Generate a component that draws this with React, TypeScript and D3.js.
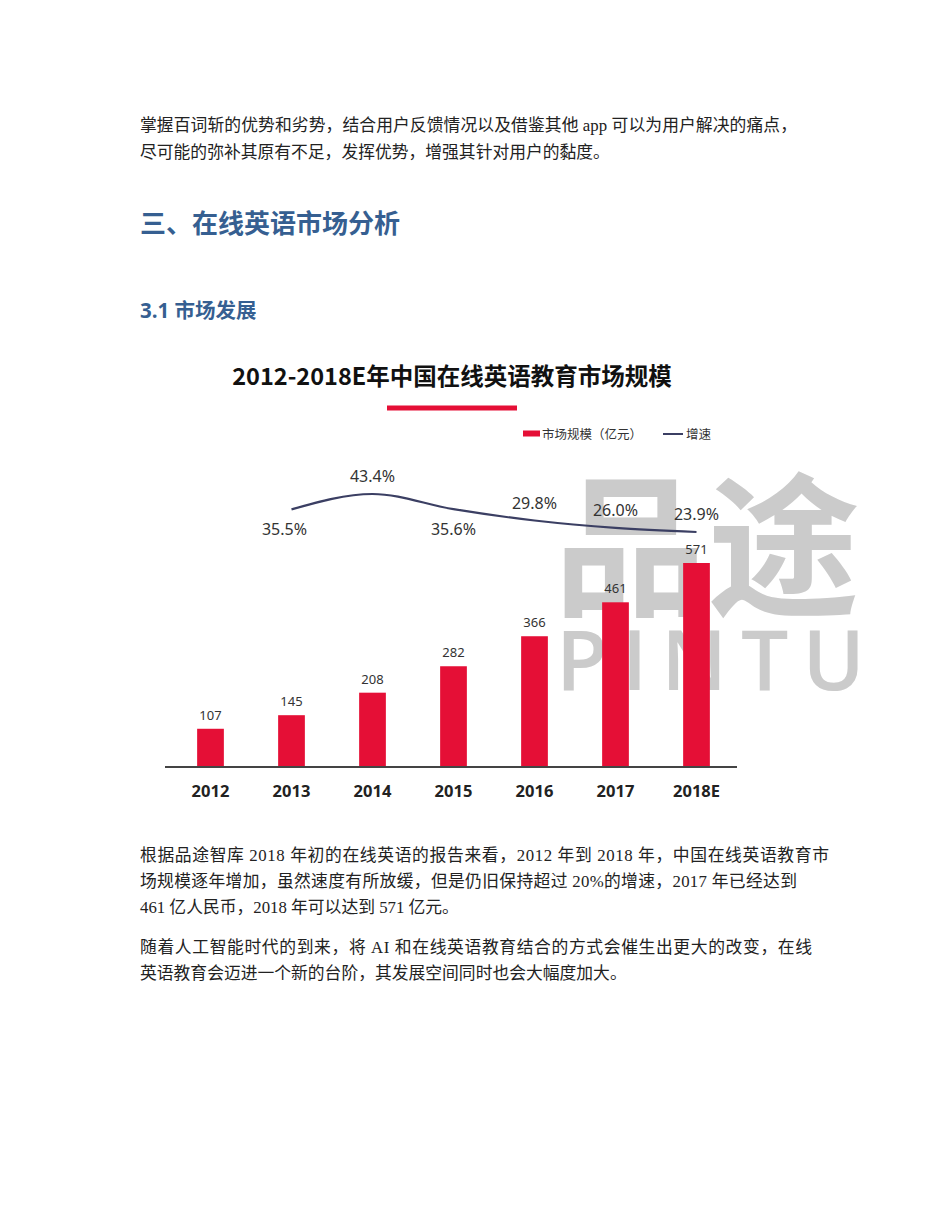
import React from 'react';
import * as d3 from 'd3';

// ---------- data ----------
const categories = ['2012', '2013', '2014', '2015', '2016', '2017', '2018E'];
const marketSize = [107, 145, 208, 282, 366, 461, 571];
const growthYears = ['2013', '2014', '2015', '2016', '2017', '2018E'];
const growthRates = [35.5, 43.4, 35.6, 29.8, 26.0, 23.9];
const growthLabelSide = ['below', 'above', 'below', 'above', 'above', 'above'];
const legendLabels = ['市场规模（亿元）', '增速'];
const chartTitle = '2012-2018E年中国在线英语教育市场规模';

const introLines = [
  '掌握百词斩的优势和劣势，结合用户反馈情况以及借鉴其他 app 可以为用户解决的痛点，',
  '尽可能的弥补其原有不足，发挥优势，增强其针对用户的黏度。',
];
const introWidths = [657, 0];
const heading1 = '三、在线英语市场分析';
const heading2 = '3.1 市场发展';
const para2Lines = [
  '根据品途智库 2018 年初的在线英语的报告来看，2012 年到 2018 年，中国在线英语教育市',
  '场规模逐年增加，虽然速度有所放缓，但是仍旧保持超过 20%的增速，2017 年已经达到',
  '461 亿人民币，2018 年可以达到 571 亿元。',
];
const para2Widths = [689, 657, 0];
const para3Lines = [
  '随着人工智能时代的到来，将 AI 和在线英语教育结合的方式会催生出更大的改变，在线',
  '英语教育会迈进一个新的台阶，其发展空间同时也会大幅度加大。',
];
const para3Widths = [672, 0];

// ---------- styles ----------
const bodyFont = "'Liberation Serif', 'Noto Sans CJK SC', serif";
const cjkSans = "'Noto Sans CJK SC', 'Noto Sans', sans-serif";
const latinSans = "'Noto Sans', 'Noto Sans CJK SC', sans-serif";
const headingColor = '#365F91';
const barColor = '#E50F36';
const lineColor = '#3B3F63';

function BodyLine({ t, x, y, w }: { t: string; x: number; y: number; w: number }) {
  const extra = w > 0 ? { textLength: w, lengthAdjust: 'spacing' } : {};
  return (
    <text x={x} y={y} fontFamily={bodyFont} fontSize={16.8} fill="#222" {...(extra as any)}>
      {t}
    </text>
  );
}

export default function App() {
  const x = d3
    .scaleBand<string>()
    .domain(categories)
    .range([170, 737])
    .paddingInner(0.67)
    .paddingOuter(0.335);
  const baseY = 767;
  const y = d3.scaleLinear().domain([0, 571]).range([baseY, 563]);
  const yRate = d3.scaleLinear().domain([23.9, 43.4]).range([532, 494]);
  const cx = (c: string) => (x(c) as number) + x.bandwidth() / 2;

  const linePts: [number, number][] = growthYears.map((c, i) => [cx(c), yRate(growthRates[i])]);
  const linePath = d3.line().curve(d3.curveMonotoneX)(linePts) || '';

  return (
    <svg
      width={950}
      height={1230}
      viewBox="0 0 950 1230"
      style={{ position: 'absolute', left: 0, top: 0, background: '#fff' }}
    >
      <rect x={0} y={0} width={950} height={1230} fill="#fff" />

      {/* intro paragraph */}
      {introLines.map((t, i) => (
        <BodyLine key={'in' + i} t={t} x={140} y={130.5 + i * 27} w={introWidths[i]} />
      ))}

      {/* headings */}
      <text x={140} y={233} fontFamily={cjkSans} fontWeight={700} fontSize={26} fill={headingColor}>
        {heading1}
      </text>
      <text x={140} y={317.5} fontFamily={"'Open Sans', 'Noto Sans CJK SC', sans-serif"} fontWeight={700} fontSize={20.5} fill={headingColor}>
        {heading2}
      </text>

      {/* ---------- chart ---------- */}
      {/* watermark */}
      <text x={554} y={537} dominantBaseline="central" fontFamily={cjkSans} fontWeight={700} fontSize={153} fill="#CBCBCB">
        品途
      </text>
      <text x={556} y={690} fontFamily={"'Open Sans', 'Noto Sans', sans-serif"} fontWeight={600} fontSize={84} fill="#CBCBCB" letterSpacing={14}>
        PINTU
      </text>

      {/* title */}
      <text x={452} y={385} textAnchor="middle" fontFamily={cjkSans} fontWeight={700} fontSize={23.5} fill="#111">
        {chartTitle}
      </text>
      <rect x={387} y={405.5} width={130} height={5} fill={barColor} />

      {/* legend */}
      <rect x={523} y={430.5} width={17} height={6} fill={barColor} />
      <text x={542} y={438.5} fontFamily={cjkSans} fontSize={12.5} fill="#333">
        {legendLabels[0]}
      </text>
      <line x1={663} x2={683} y1={434} y2={434} stroke={lineColor} strokeWidth={2} />
      <text x={686} y={438.5} fontFamily={cjkSans} fontSize={12.5} fill="#333">
        {legendLabels[1]}
      </text>

      {/* bars */}
      {categories.map((c, i) => (
        <g key={'b' + c}>
          <rect x={x(c)} y={y(marketSize[i])} width={x.bandwidth()} height={baseY - y(marketSize[i])} fill={barColor} />
          <text x={cx(c)} y={y(marketSize[i]) - 9} textAnchor="middle" fontFamily={latinSans} fontSize={13} fill="#333">
            {marketSize[i]}
          </text>
          <text x={cx(c)} y={797} textAnchor="middle" fontFamily={latinSans} fontWeight={700} fontSize={16.5} fill="#222">
            {c}
          </text>
        </g>
      ))}

      {/* axis */}
      <line x1={165} x2={737} y1={baseY} y2={baseY} stroke="#444" strokeWidth={2} />

      {/* growth line */}
      <path d={linePath} fill="none" stroke={lineColor} strokeWidth={2.2} />
      {growthYears.map((c, i) => {
        const py = yRate(growthRates[i]);
        const ly = growthLabelSide[i] === 'above' ? py - 18 : py + 20;
        const dx = i === 0 ? -7 : 0;
        return (
          <text key={'g' + c} x={cx(c) + dx} y={ly} dominantBaseline="central" textAnchor="middle" fontFamily={latinSans} fontSize={16} fill="#333">
            {growthRates[i].toFixed(1) + '%'}
          </text>
        );
      })}

      {/* paragraphs after chart */}
      {para2Lines.map((t, i) => (
        <BodyLine key={'p2' + i} t={t} x={140} y={861 + i * 26} w={para2Widths[i]} />
      ))}
      {para3Lines.map((t, i) => (
        <BodyLine key={'p3' + i} t={t} x={140} y={953 + i * 26} w={para3Widths[i]} />
      ))}
    </svg>
  );
}
